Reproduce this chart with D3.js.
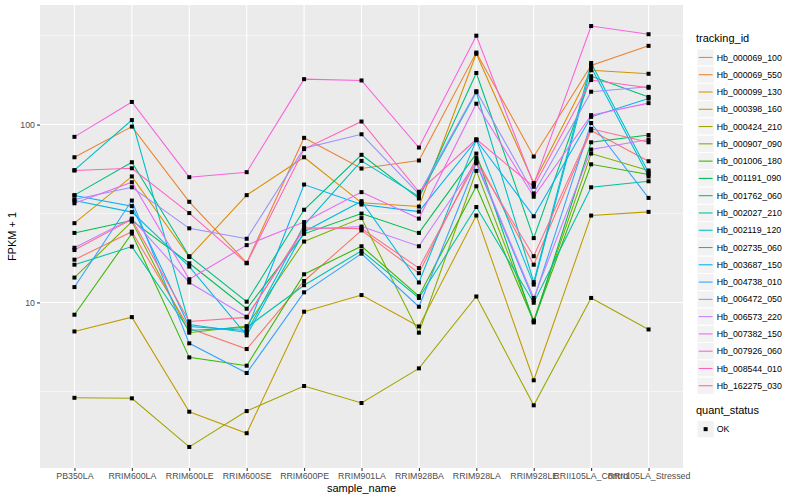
<!DOCTYPE html>
<html>
<head>
<meta charset="utf-8">
<script src="https://cdn.jsdelivr.net/npm/d3@7"></script>
<style>
  body { margin: 0; background: #fff; }
  text { font-family: "Liberation Sans", Arial, sans-serif; }
</style>
</head>
<body>
<div id="chart"></div>
<script>
// sample names on the x axis
var categories = ["PB350LA", "RRIM600LA", "RRIM600LE", "RRIM600SE", "RRIM600PE", "RRIM901LA",
  "RRIM928BA", "RRIM928LA", "RRIM928LE", "RRII105LA_Control", "RRII105LA_Stressed"];

var trackingIds = ["Hb_000069_100", "Hb_000069_550", "Hb_000099_130", "Hb_000398_160", "Hb_000424_210",
  "Hb_000907_090", "Hb_001006_180", "Hb_001191_090", "Hb_001762_060", "Hb_002027_210",
  "Hb_002119_120", "Hb_002735_060", "Hb_003687_150", "Hb_004738_010", "Hb_006472_050",
  "Hb_006573_220", "Hb_007382_150", "Hb_007926_060", "Hb_008544_010", "Hb_162275_030"];

// FPKM + 1, one row per tracking id, one value per sample
var fpkm = [
  [17.4, 25.0, 7.15, 5.47, 13.2, 25.4, 14.6, 64.8, 16.3, 92.5, 62.2],
  [65.5, 97.4, 36.8, 16.7, 84.2, 56.6, 62.8, 254, 66.1, 215, 277],
  [27.9, 51.1, 18.0, 40.1, 65.5, 36.3, 34.6, 250, 46.9, 202, 193],
  [6.87, 8.27, 2.43, 1.84, 8.87, 11.0, 7.33, 30.8, 3.65, 30.8, 32.3],
  [2.91, 2.89, 1.54, 2.45, 3.39, 2.72, 4.26, 10.8, 2.64, 10.6, 7.05],
  [13.8, 28.5, 6.76, 7.36, 22.0, 29.8, 6.76, 54.9, 7.92, 68.7, 55.2],
  [8.53, 24.4, 4.91, 4.41, 14.4, 20.7, 10.85, 45.0, 7.82, 59.8, 52.4],
  [24.6, 28.9, 16.6, 9.22, 24.3, 31.6, 24.6, 68.7, 7.72, 79.5, 87.3],
  [40.1, 61.4, 18.2, 10.1, 33.2, 67.6, 38.4, 195, 23.0, 187, 143],
  [16.3, 20.6, 6.96, 7.24, 12.5, 19.5, 10.6, 34.4, 9.96, 44.4, 48.0],
  [55.4, 106, 7.52, 6.78, 27.2, 62.5, 39.4, 152, 13.0, 222, 53.8],
  [37.4, 32.2, 15.9, 6.53, 25.0, 37.1, 12.95, 82.0, 12.6, 210, 51.1],
  [39.9, 34.8, 7.33, 6.96, 46.0, 35.5, 32.4, 81.6, 30.5, 110.5, 140],
  [12.2, 37.4, 5.89, 4.01, 11.4, 18.8, 9.46, 60.6, 10.3, 102, 38.7],
  [37.9, 44.4, 26.1, 22.8, 73.6, 88.2, 40.8, 154, 41.0, 153, 163],
  [20.3, 29.6, 12.95, 8.31, 25.7, 26.7, 20.7, 61.7, 10.6, 72.4, 82.4],
  [36.1, 47.4, 13.5, 21.0, 28.3, 41.7, 29.6, 131, 39.3, 113, 132],
  [85.3, 134, 50.6, 54.0, 180, 177, 74.3, 316, 46.0, 358, 322],
  [55.2, 56.8, 31.8, 16.6, 72.8, 104, 41.9, 82.7, 44.7, 178, 161],
  [19.7, 29.3, 7.82, 8.24, 26.3, 26.0, 15.6, 61.6, 18.2, 94.6, 79.5]
];

var quantStatus = ["OK"];
var yMajorTicks = [10, 100];
var yMinorTicks = [3.16, 31.6, 316];

// ggplot default hue palette for 20 groups
var palette = ["#F8766D", "#EA8331", "#D89000", "#C09B00", "#A3A500", "#7CAE00", "#39B600", "#00BB4E",
  "#00BF7D", "#00C1A3", "#00BFC4", "#00BAE0", "#00B0F6", "#35A2FF", "#9590FF", "#C77CFF",
  "#E76BF3", "#FA62DB", "#FF62BC", "#FF6C91"];

var W = 800, H = 500;
var panel = {left: 40, right: 683, top: 5, bottom: 468};

var svg = d3.select("#chart").append("svg")
  .attr("width", W).attr("height", H);

var series = trackingIds.map(function(id, i) {
  return {id: id, color: palette[i], values: fpkm[i].map(function(v, j) {
    return {sample: categories[j], value: v};
  })};
});

var x = d3.scalePoint().domain(categories)
  .range([panel.left, panel.right]).padding(0.6);

// log scale, expanded 5% each side like ggplot
var allVals = d3.merge(fpkm);
var lo = Math.log10(d3.min(allVals)), hi = Math.log10(d3.max(allVals));
var pad = (hi - lo) * 0.05;
var y = d3.scaleLog().domain([Math.pow(10, lo - pad), Math.pow(10, hi + pad)])
  .range([panel.bottom, panel.top]);

// panel background
svg.append("rect")
  .attr("x", panel.left).attr("y", panel.top)
  .attr("width", panel.right - panel.left).attr("height", panel.bottom - panel.top)
  .attr("fill", "#EBEBEB");

var grid = svg.append("g");
grid.selectAll(".minor").data(yMinorTicks).enter().append("line")
  .attr("x1", panel.left).attr("x2", panel.right)
  .attr("y1", function(d) { return y(d); }).attr("y2", function(d) { return y(d); })
  .attr("stroke", "#fff").attr("stroke-width", 0.55);
grid.selectAll(".major").data(yMajorTicks).enter().append("line")
  .attr("x1", panel.left).attr("x2", panel.right)
  .attr("y1", function(d) { return y(d); }).attr("y2", function(d) { return y(d); })
  .attr("stroke", "#fff").attr("stroke-width", 1.1);
grid.selectAll(".vx").data(categories).enter().append("line")
  .attr("y1", panel.top).attr("y2", panel.bottom)
  .attr("x1", function(d) { return x(d); }).attr("x2", function(d) { return x(d); })
  .attr("stroke", "#fff").attr("stroke-width", 1.1);

// lines
var line = d3.line()
  .x(function(d) { return x(d.sample); })
  .y(function(d) { return y(d.value); });

svg.append("g").selectAll("path").data(series).enter().append("path")
  .attr("d", function(d) { return line(d.values); })
  .attr("fill", "none")
  .attr("stroke", function(d) { return d.color; })
  .attr("stroke-width", 1.07);

// points (quant_status OK -> filled square)
var pts = svg.append("g");
series.forEach(function(s) {
  pts.selectAll(null).data(s.values).enter().append("rect")
    .attr("x", function(d) { return x(d.sample) - 2; })
    .attr("y", function(d) { return y(d.value) - 2; })
    .attr("width", 4).attr("height", 4)
    .attr("fill", "#000");
});

// axes
var xAxis = svg.append("g")
  .attr("transform", "translate(0," + panel.bottom + ")")
  .call(d3.axisBottom(x).tickSize(3).tickPadding(2));
var yAxis = svg.append("g")
  .attr("transform", "translate(" + panel.left + ",0)")
  .call(d3.axisLeft(y).tickValues(yMajorTicks).tickFormat(d3.format("d")).tickSize(3).tickPadding(2));
[xAxis, yAxis].forEach(function(a) {
  a.select(".domain").remove();
  a.selectAll(".tick line").attr("stroke", "#333").attr("stroke-width", 1.07);
  a.selectAll(".tick text").attr("fill", "#4D4D4D")
    .style("font-size", "8.8px").style("font-family", "Liberation Sans, Arial, sans-serif");
});

svg.append("text")
  .attr("x", (panel.left + panel.right) / 2).attr("y", 492)
  .attr("text-anchor", "middle").style("font-size", "11px")
  .text("sample_name");
svg.append("text")
  .attr("transform", "translate(16," + ((panel.top + panel.bottom) / 2) + ") rotate(-90)")
  .attr("text-anchor", "middle").style("font-size", "11px")
  .text("FPKM + 1");

// legend: tracking_id
var lg = svg.append("g").attr("transform", "translate(697,0)");
lg.append("text").attr("x", -1).attr("y", 42).style("font-size", "11px").text("tracking_id");
var keySize = 17.28, keyTop = 48.8;
var items = lg.selectAll(".item").data(series).enter().append("g")
  .attr("transform", function(d, i) { return "translate(0," + (keyTop + i * keySize) + ")"; });
items.append("rect")
  .attr("width", keySize).attr("height", keySize)
  .attr("fill", "#F2F2F2").attr("stroke", "#fff").attr("stroke-width", 1);
items.append("line")
  .attr("x1", 1.7).attr("x2", keySize - 1.7)
  .attr("y1", keySize / 2).attr("y2", keySize / 2)
  .attr("stroke", function(d) { return d.color; }).attr("stroke-width", 1.07);
items.append("text")
  .attr("x", keySize + 2.5).attr("y", keySize / 2 + 3.1)
  .style("font-size", "8.8px")
  .text(function(d) { return d.id; });

// legend: quant_status
var qg = svg.append("g").attr("transform", "translate(697,0)");
qg.append("text").attr("x", -1).attr("y", 414).style("font-size", "11px").text("quant_status");
var qItems = qg.selectAll(".q").data(quantStatus).enter().append("g")
  .attr("transform", function(d, i) { return "translate(0," + (420.5 + i * keySize) + ")"; });
qItems.append("rect")
  .attr("width", keySize).attr("height", keySize)
  .attr("fill", "#F2F2F2").attr("stroke", "#fff").attr("stroke-width", 1);
qItems.append("rect")
  .attr("x", keySize / 2 - 2).attr("y", keySize / 2 - 2)
  .attr("width", 4).attr("height", 4).attr("fill", "#000");
qItems.append("text")
  .attr("x", keySize + 2.5).attr("y", keySize / 2 + 3.1)
  .style("font-size", "8.8px")
  .text(function(d) { return d; });
</script>
</body>
</html>
